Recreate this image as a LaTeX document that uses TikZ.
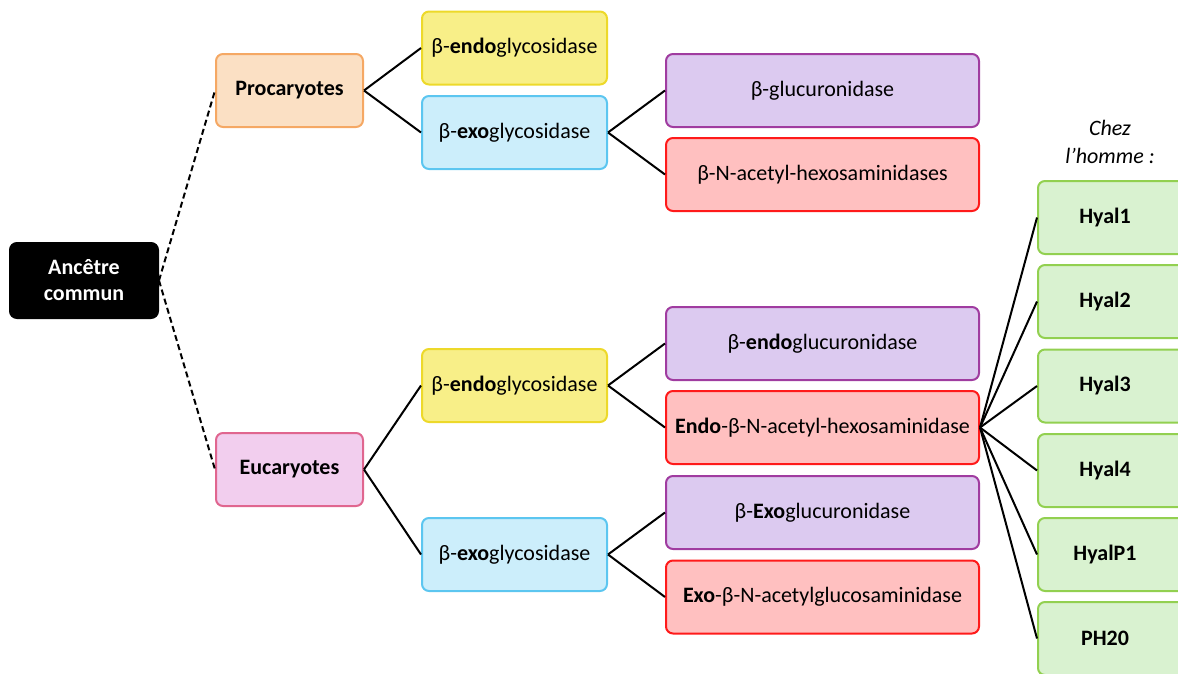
\documentclass[tikz,border=0pt]{standalone}
\usepackage{fontspec}
\setmainfont{Carlito}
\definecolor{peachF}{HTML}{FBE0C4}
\definecolor{peachD}{HTML}{F5A864}
\definecolor{pinkF}{HTML}{F2CEEE}
\definecolor{pinkD}{HTML}{E0668F}
\definecolor{yelF}{HTML}{F8EF88}
\definecolor{yelD}{HTML}{EDD92A}
\definecolor{bluF}{HTML}{CCEEFB}
\definecolor{bluD}{HTML}{5CC6F0}
\definecolor{purF}{HTML}{DCCAF0}
\definecolor{purD}{HTML}{A03CA0}
\definecolor{redF}{HTML}{FFC0C0}
\definecolor{redD}{HTML}{FF1A1A}
\definecolor{grnF}{HTML}{D9F2D0}
\definecolor{grnD}{HTML}{92D050}
\begin{document}
\begin{tikzpicture}[x=1pt,y=-1pt,
  box/.style={rounded corners=7pt, line width=2pt, align=center, inner sep=0pt, font=\fontsize{22}{25}\selectfont},
  small/.style={box, minimum width=185pt, minimum height=73pt},
  wide/.style={box, minimum width=313pt, minimum height=73pt},
  hy/.style={box, fill=grnF, draw=grnD, minimum width=152pt, minimum height=73pt, font=\fontsize{22}{25}\selectfont\bfseries},
  link/.style={line width=2pt, black},
  dlink/.style={link, dash pattern=on 6pt off 3.5pt}]
\useasboundingbox (0,0) rectangle (1178,673);
\clip (0,0) rectangle (1178,673);
% root
\node[box, fill=black, draw=black, text=white, minimum width=148pt, minimum height=75pt, font=\fontsize{22}{26}\selectfont\bfseries] (anc) at (84,280.5) {Ancêtre\\commun};
% level 1
\node[box, fill=peachF, draw=peachD, minimum width=147pt, minimum height=73pt, font=\fontsize{22}{25}\selectfont\bfseries] (pro) at (289.5,90.5) {Procaryotes};
\node[box, fill=pinkF, draw=pinkD, minimum width=147pt, minimum height=73pt, font=\fontsize{22}{25}\selectfont\bfseries] (euc) at (289.5,469.5) {Eucaryotes};
% level 2
\node[small, fill=yelF, draw=yelD] (pendo) at (514.5,48) {β-\textbf{endo}glycosidase};
\node[small, fill=bluF, draw=bluD] (pexo) at (514.5,132.5) {β-\textbf{exo}glycosidase};
\node[small, fill=yelF, draw=yelD] (eendo) at (514.5,385.5) {β-\textbf{endo}glycosidase};
\node[small, fill=bluF, draw=bluD] (eexo) at (514.5,554.5) {β-\textbf{exo}glycosidase};
% level 3
\node[wide, fill=purF, draw=purD] (pglu) at (822.5,90.5) {β-glucuronidase};
\node[wide, fill=redF, draw=redD] (phex) at (822.5,174.5) {β-N-acetyl-hexosaminidases};
\node[wide, fill=purF, draw=purD] (eglu) at (822.5,343.5) {β-\textbf{endo}glucuronidase};
\node[wide, fill=redF, draw=redD] (ehex) at (822.5,427.5) {\textbf{Endo}-β-N-acetyl-hexosaminidase};
\node[wide, fill=purF, draw=purD] (xglu) at (822.5,512.5) {β-\textbf{Exo}glucuronidase};
\node[wide, fill=redF, draw=redD] (xhex) at (822.5,597) {\textbf{Exo}-β-N-acetylglucosaminidase};
% level 4
\node[font=\fontsize{22}{28}\selectfont\itshape, align=center] (chez) at (1110,142) {Chez\\l’homme :};
\node[hy] (h1) at (1114,217.5) {Hyal1\hspace*{18pt}};
\node[hy] (h2) at (1114,301.5) {Hyal2\hspace*{18pt}};
\node[hy] (h3) at (1114,386) {Hyal3\hspace*{18pt}};
\node[hy] (h4) at (1114,470.5) {Hyal4\hspace*{18pt}};
\node[hy] (hp) at (1114,554.5) {HyalP1\hspace*{18pt}};
\node[hy] (ph) at (1114,638.5) {PH20\hspace*{18pt}};
% connectors
\draw[dlink] (anc.east) -- (pro.west);
\draw[dlink] (anc.east) -- (euc.west);
\draw[link] (pro.east) -- (pendo.west);
\draw[link] (pro.east) -- (pexo.west);
\draw[link] (euc.east) -- (eendo.west);
\draw[link] (euc.east) -- (eexo.west);
\draw[link] (pexo.east) -- (pglu.west);
\draw[link] (pexo.east) -- (phex.west);
\draw[link] (eendo.east) -- (eglu.west);
\draw[link] (eendo.east) -- (ehex.west);
\draw[link] (eexo.east) -- (xglu.west);
\draw[link] (eexo.east) -- (xhex.west);
\foreach \h in {h1,h2,h3,h4,hp,ph} \draw[link] (ehex.east) -- (\h.west);
\end{tikzpicture}
\end{document}
